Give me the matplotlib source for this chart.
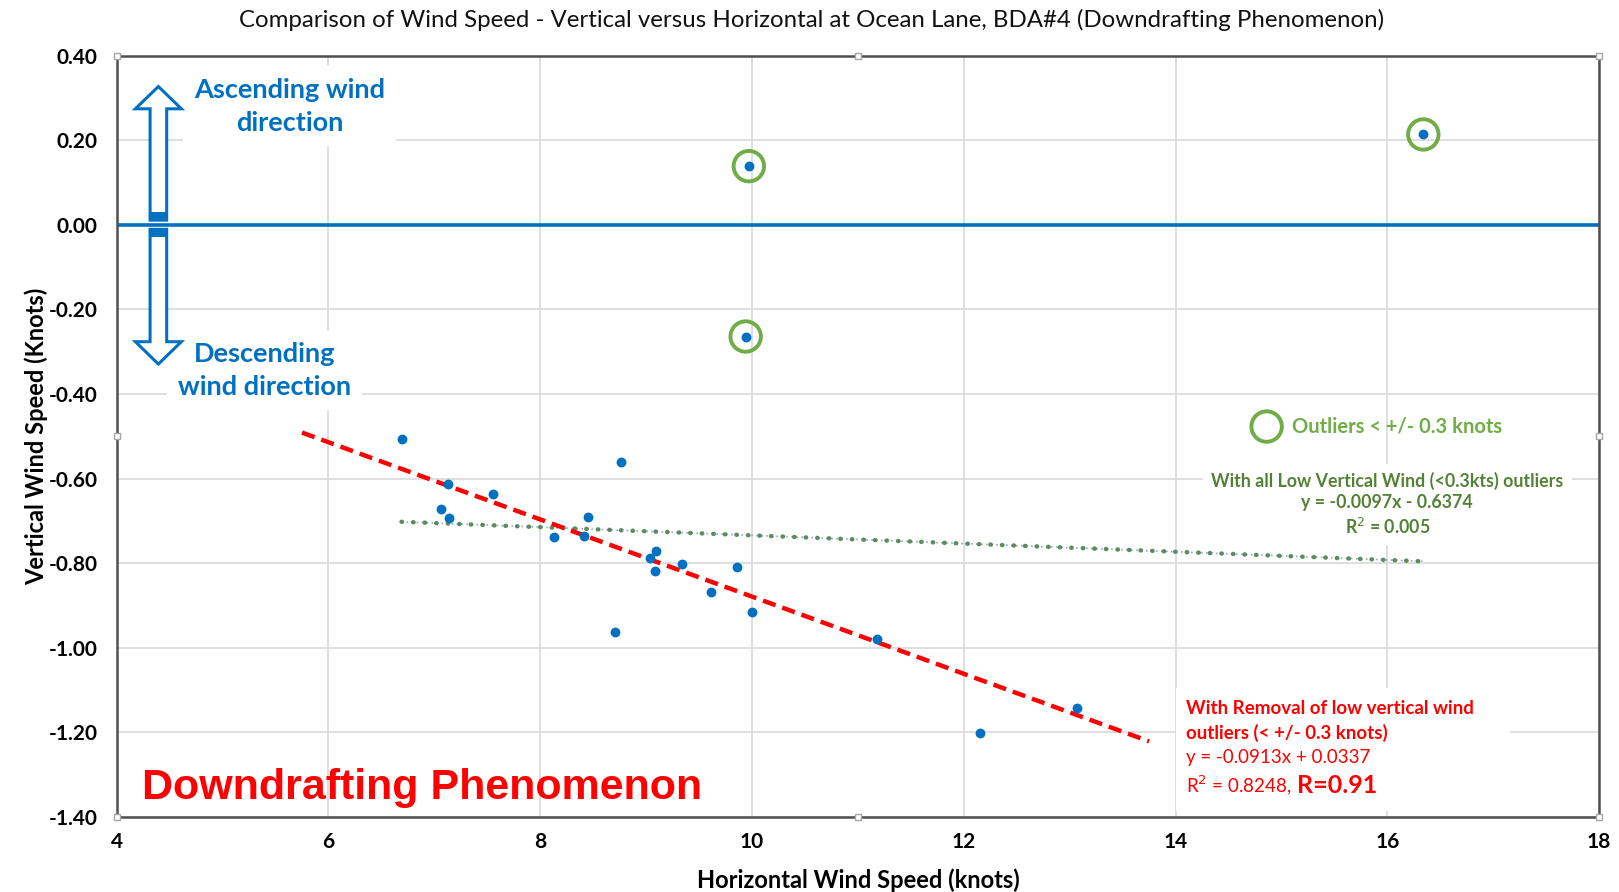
import numpy as np
import matplotlib
matplotlib.use('Agg')
import matplotlib.pyplot as plt
from matplotlib.patches import Polygon, Rectangle

plt.rcParams['font.family'] = ['Lato', 'DejaVu Sans']

# horizontal vs vertical wind speed (knots)
horiz = [6.69, 7.13, 7.55, 7.06, 7.14, 8.76, 8.45, 8.13, 8.41, 9.09, 9.04, 9.08,
         9.34, 9.86, 9.61, 10.00, 8.71, 11.18, 13.07, 12.15]
vert = [-0.507, -0.614, -0.636, -0.671, -0.693, -0.561, -0.690, -0.739, -0.736, -0.771,
        -0.788, -0.818, -0.803, -0.809, -0.869, -0.915, -0.963, -0.980, -1.142, -1.202]

# low vertical wind outliers
out_h = [9.97, 16.34, 9.94]
out_v = [0.139, 0.214, -0.264]

# trendlines
slope_all, icpt_all = -0.0097, -0.6374
slope_red, icpt_red = -0.0913, 0.0337
red_range = [5.75, 13.75]

xticks = [4, 6, 8, 10, 12, 14, 16, 18]
yticks = [0.40, 0.20, 0.00, -0.20, -0.40, -0.60, -0.80, -1.00, -1.20, -1.40]

blue = '#0070c0'
green = '#70ad47'
dkgreen = '#548235'
red = '#ff0000'

fig = plt.figure(figsize=(16.19, 8.92), dpi=100)
ax = fig.add_axes([0.0721, 0.0844, 0.9156, 0.8530])

ax.set_xlim(4, 18)
ax.set_ylim(-1.4, 0.4)
ax.set_xticks(xticks)
ax.set_yticks(yticks)
ax.set_yticklabels(['%.2f' % v for v in yticks])
ax.tick_params(length=0, labelsize=15)
ax.tick_params(axis='y', pad=14)
ax.tick_params(axis='x', pad=11)
for lab in ax.get_xticklabels() + ax.get_yticklabels():
    lab.set_fontweight('bold')
ax.grid(True, color='#d9d9d9', linewidth=1.2)
ax.set_axisbelow(True)
for s in ax.spines.values():
    s.set_color('#505050')
    s.set_linewidth(1.8)

ax.axhline(0, color=blue, linewidth=2.6, zorder=2)

# trendline with all points
xa = np.array([min(horiz + out_h), max(horiz + out_h)])
ax.plot(xa, slope_all * xa + icpt_all, color='#8faadc', linewidth=1.2, linestyle=(0, (1, 2)), zorder=3)
ax.plot(xa, slope_all * xa + icpt_all, color='#5e8a5e', linewidth=3.2, linestyle=(0, (0.1, 2.5)),
        dash_capstyle='round', zorder=3)

# trendline without outliers
xr = np.array(red_range)
ax.plot(xr, slope_red * xr + icpt_red, color=red, linewidth=3.2, linestyle=(0, (3, 1.6)), zorder=4)

ax.scatter(horiz + out_h, vert + out_v, s=50, color=blue, zorder=5, linewidths=0)
ax.scatter(out_h, out_v, s=480, facecolors='none', edgecolors=green, linewidths=2.8, zorder=5)

# outlier legend
ax.scatter([14.86], [-0.477], s=480, facecolors='none', edgecolors=green, linewidths=2.8, zorder=5)
ax.text(15.1, -0.477, 'Outliers < +/- 0.3 knots', color=green, fontsize=14.5, fontweight='bold',
        va='center', ha='left', zorder=6)

ax.text(16.0, -0.661, 'With all Low Vertical Wind (<0.3kts) outliers\ny = -0.0097x - 0.6374\nR$^2$ = 0.005',
        color=dkgreen, fontsize=12.8, fontweight='bold', ha='center', va='center', linespacing=1.3,
        bbox=dict(facecolor='white', edgecolor='none', pad=6), zorder=2.5)

# white box behind the red label
ax.add_patch(Rectangle((14.0, -1.387), 3.16, 0.291, facecolor='white', edgecolor='none', zorder=1.5))
ax.text(14.1, -1.144, 'With Removal of low vertical wind', color=red, fontsize=13.5,
        fontweight='bold', ha='left', va='center', zorder=7)
ax.text(14.1, -1.202, 'outliers (< +/- 0.3 knots)', color=red, fontsize=13.5,
        fontweight='bold', ha='left', va='center', zorder=7)
ax.text(14.1, -1.261, 'y = -0.0913x + 0.0337', color=red, fontsize=13.5, ha='left', va='center', zorder=7)
t = ax.text(14.1, -1.326, 'R$^2$ = 0.8248,', color=red, fontsize=13.5, ha='left', va='center', zorder=7)
ax.annotate('R=0.91', xycoords=t, xy=(1, 0.5), xytext=(4, 0), textcoords='offset points',
            color=red, fontsize=18, fontweight='bold', ha='left', va='center', zorder=7)

ax.text(0.017, 0.038, 'Downdrafting Phenomenon', transform=ax.transAxes, color=red,
        fontsize=31, fontweight='bold', family='Liberation Sans', ha='left', va='center', zorder=6)

# direction arrows
ax.text(0.1165, 0.934, 'Ascending wind\ndirection', transform=ax.transAxes, color=blue, fontsize=19.5,
        fontweight='bold', ha='center', va='center', linespacing=1.45,
        bbox=dict(facecolor='white', edgecolor='none', pad=8), zorder=6)
ax.text(0.0995, 0.5864, 'Descending\nwind direction', transform=ax.transAxes, color=blue, fontsize=19.5,
        fontweight='bold', ha='center', va='center', linespacing=1.45,
        bbox=dict(facecolor='white', edgecolor='none', pad=8), zorder=6)

cx, hw, sw = 0.0281, 0.0155, 0.0056
up = [(cx, 0.9597), (cx + hw, 0.9304), (cx + sw, 0.9304), (cx + sw, 0.7841),
      (cx - sw, 0.7841), (cx - sw, 0.9304), (cx - hw, 0.9304)]
dn = [(cx, 0.5949), (cx + hw, 0.6243), (cx + sw, 0.6243), (cx + sw, 0.772),
      (cx - sw, 0.772), (cx - sw, 0.6243), (cx - hw, 0.6243)]
for pts in (up, dn):
    ax.add_patch(Polygon(pts, closed=True, facecolor='white', edgecolor=blue, linewidth=2.2,
                         transform=ax.transAxes, zorder=7))
ax.add_patch(Rectangle((cx - sw, 0.7841), 2 * sw, 0.0105, facecolor=blue, transform=ax.transAxes, zorder=8))
ax.add_patch(Rectangle((cx - sw, 0.7615), 2 * sw, 0.0105, facecolor=blue, transform=ax.transAxes, zorder=8))

# selection handles on plot area
hx = [0, 0.5, 1, 0, 1, 0, 0.5, 1]
hy = [0, 0, 0, 0.5, 0.5, 1, 1, 1]
ax.plot(hx, hy, 's', transform=ax.transAxes, markersize=5, markerfacecolor='white',
        markeredgecolor='#a6a6a6', markeredgewidth=1, clip_on=False, zorder=10)

fig.text(0.501, 0.978, 'Comparison of Wind Speed - Vertical versus Horizontal at Ocean Lane, BDA#4 (Downdrafting Phenomenon)',
         fontsize=17.3, ha='center', va='center', color='#111111')
ax.set_xlabel('Horizontal Wind Speed (knots)', fontsize=17, fontweight='bold', labelpad=12)
ax.set_ylabel('Vertical Wind Speed (Knots)', fontsize=17, fontweight='bold', labelpad=0)

plt.savefig('out.png', dpi=100)
